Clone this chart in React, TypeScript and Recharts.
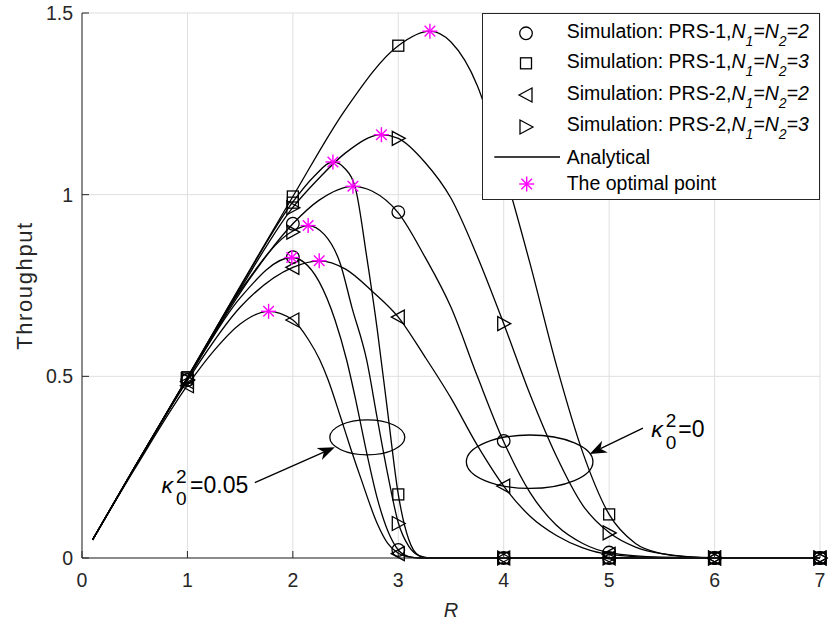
import { ComposedChart, Line, Scatter, XAxis, YAxis, CartesianGrid, ReferenceDot, Legend } from 'recharts';

const FONT = '"Liberation Sans", Arial, Helvetica, sans-serif';
const INK = '#262626';
const MAGENTA = '#ff00ff';

// axis ticks
const xTicks = [0, 1, 2, 3, 4, 5, 6, 7];
const yTicks = [0, 0.5, 1, 1.5];

// analytical curves, kappa_0^2 = 0
const k0Prs1N3R = [0.1, 0.5, 1, 1.5, 2, 2.5, 3, 3.3, 3.5, 3.75, 4, 4.25, 4.5, 4.75, 5, 5.25, 5.5, 5.75, 6, 7];
const k0Prs1N3T = [0.05, 0.25, 0.497, 0.748, 0.995, 1.235, 1.41, 1.45, 1.42, 1.3, 1.07, 0.81, 0.53, 0.29, 0.12, 0.04, 0.012, 0.003, 0, 0];
const k0Prs2N3R = [0.1, 0.5, 1, 1.5, 2, 2.25, 2.5, 2.84, 3, 3.25, 3.5, 3.75, 4, 4.25, 4.5, 4.75, 5, 5.25, 5.5, 6, 7];
const k0Prs2N3T = [0.05, 0.25, 0.495, 0.74, 0.965, 1.046, 1.115, 1.165, 1.155, 1.09, 0.99, 0.83, 0.645, 0.45, 0.28, 0.145, 0.07, 0.03, 0.012, 0.001, 0];
const k0Prs1N2R = [0.1, 0.5, 1, 1.5, 2, 2.25, 2.57, 2.75, 3, 3.25, 3.5, 3.75, 4, 4.25, 4.5, 4.75, 5, 5.5, 6, 7];
const k0Prs1N2T = [0.05, 0.25, 0.493, 0.73, 0.92, 0.985, 1.023, 1.01, 0.95, 0.83, 0.69, 0.5, 0.32, 0.18, 0.09, 0.04, 0.015, 0.002, 0, 0];
const k0Prs2N2R = [0.1, 0.5, 1, 1.5, 2, 2.25, 2.5, 2.75, 3, 3.25, 3.5, 3.75, 4, 4.25, 4.5, 4.75, 5, 5.5, 6, 7];
const k0Prs2N2T = [0.05, 0.25, 0.488, 0.69, 0.8, 0.818, 0.795, 0.735, 0.663, 0.555, 0.44, 0.31, 0.198, 0.115, 0.062, 0.028, 0.01, 0.001, 0, 0];

// analytical curves, kappa_0^2 = 0.05
const k5Prs1N3R = [0.1, 0.5, 1, 1.5, 2, 2.2, 2.38, 2.5, 2.6, 2.7, 2.8, 2.9, 3, 3.1, 3.2, 3.3, 4, 5, 6, 7];
const k5Prs1N3T = [0.05, 0.25, 0.497, 0.745, 0.98, 1.05, 1.09, 1.07, 1.01, 0.83, 0.63, 0.4, 0.175, 0.05, 0.006, 0, 0, 0, 0, 0];
const k5Prs2N3R = [0.1, 0.5, 1, 1.5, 2, 2.145, 2.3, 2.45, 2.56, 2.7, 2.8, 2.9, 3, 3.1, 3.2, 3.3, 4, 5, 6, 7];
const k5Prs2N3T = [0.05, 0.25, 0.495, 0.735, 0.9, 0.915, 0.89, 0.81, 0.69, 0.545, 0.385, 0.23, 0.097, 0.032, 0.006, 0, 0, 0, 0, 0];
const k5Prs1N2R = [0.1, 0.5, 1, 1.5, 1.99, 2.1, 2.25, 2.4, 2.51, 2.6, 2.7, 2.8, 2.9, 3, 3.1, 3.2, 4, 5, 6, 7];
const k5Prs1N2T = [0.05, 0.25, 0.492, 0.716, 0.827, 0.815, 0.76, 0.655, 0.545, 0.43, 0.29, 0.165, 0.075, 0.022, 0.004, 0, 0, 0, 0, 0];
const k5Prs2N2R = [0.1, 0.5, 1, 1.25, 1.5, 1.77, 2, 2.15, 2.256, 2.335, 2.45, 2.55, 2.65, 2.8, 2.9, 3, 3.1, 3.2, 4, 5, 6, 7];
const k5Prs2N2T = [0.05, 0.245, 0.475, 0.57, 0.644, 0.679, 0.655, 0.6, 0.545, 0.49, 0.39, 0.3, 0.215, 0.095, 0.04, 0.013, 0.003, 0, 0, 0, 0, 0];

// simulation points
const simR = [1, 2, 3, 4, 5, 6, 7];
const simPrs1N2K0 = [0.49, 0.92, 0.952, 0.322, 0.015, 0, 0];
const simPrs1N2K5 = [0.49, 0.828, 0.022, 0, 0, 0, 0];
const simPrs1N3K0 = [0.497, 0.995, 1.41, 1.07, 0.12, 0, 0];
const simPrs1N3K5 = [0.497, 0.978, 0.175, 0, 0, 0, 0];
const simPrs2N2K0 = [0.485, 0.8, 0.663, 0.198, 0.01, 0, 0];
const simPrs2N2K5 = [0.474, 0.655, 0.012, 0, 0, 0, 0];
const simPrs2N3K0 = [0.49, 0.964, 1.155, 0.645, 0.069, 0, 0];
const simPrs2N3K5 = [0.49, 0.897, 0.095, 0, 0, 0, 0];

// optimal points
const optR = [3.3, 2.84, 2.38, 2.57, 2.145, 1.99, 2.25, 1.77];
const optT = [1.45, 1.165, 1.09, 1.023, 0.915, 0.827, 0.818, 0.679];

type Pt = { x: number; y: number };
const zip = (xs: number[], ys: number[]): Pt[] => xs.map((x, i) => ({ x, y: ys[i] }));

const curves: Pt[][] = [
  zip(k0Prs1N3R, k0Prs1N3T),
  zip(k0Prs2N3R, k0Prs2N3T),
  zip(k0Prs1N2R, k0Prs1N2T),
  zip(k0Prs2N2R, k0Prs2N2T),
  zip(k5Prs1N3R, k5Prs1N3T),
  zip(k5Prs2N3R, k5Prs2N3T),
  zip(k5Prs1N2R, k5Prs1N2T),
  zip(k5Prs2N2R, k5Prs2N2T),
];

const circlePts = [...zip(simR, simPrs1N2K0), ...zip(simR, simPrs1N2K5)];
const squarePts = [...zip(simR, simPrs1N3K0), ...zip(simR, simPrs1N3K5)];
const triLeftPts = [...zip(simR, simPrs2N2K0), ...zip(simR, simPrs2N2K5)];
const triRightPts = [...zip(simR, simPrs2N3K0), ...zip(simR, simPrs2N3K5)];
const optPts = zip(optR, optT);

const SW = 1.3;

const CircleMark = ({ cx, cy }: any) => (
  <circle cx={cx} cy={cy} r={6.3} fill="none" stroke="#000" strokeWidth={SW} />
);
const SquareMark = ({ cx, cy }: any) => (
  <rect x={cx - 5.5} y={cy - 5.5} width={11} height={11} fill="none" stroke="#000" strokeWidth={SW} />
);
const TriLeftMark = ({ cx, cy }: any) => (
  <polygon points={`${cx - 7},${cy} ${cx + 6},${cy - 7} ${cx + 6},${cy + 7}`} fill="none" stroke="#000" strokeWidth={SW} />
);
const TriRightMark = ({ cx, cy }: any) => (
  <polygon points={`${cx + 7},${cy} ${cx - 6},${cy - 7} ${cx - 6},${cy + 7}`} fill="none" stroke="#000" strokeWidth={SW} />
);
const StarMark = ({ cx, cy }: any) => {
  const r = 7.5;
  const d = 5.3;
  return (
    <g stroke={MAGENTA} strokeWidth={1.4}>
      <line x1={cx - r} y1={cy} x2={cx + r} y2={cy} />
      <line x1={cx} y1={cy - r} x2={cx} y2={cy + r} />
      <line x1={cx - d} y1={cy - d} x2={cx + d} y2={cy + d} />
      <line x1={cx - d} y1={cy + d} x2={cx + d} y2={cy - d} />
    </g>
  );
};

// arrow drawn from a tail offset (dx, dy) to the tip at the anchor
const arrowShape = (dx: number, dy: number) => ({ cx, cy }: any) => {
  const len = Math.hypot(dx, dy);
  const ux = -dx / len;
  const uy = -dy / len;
  const hl = 17;
  const hw = 6.5;
  const notch = 5;
  const bx = cx - ux * hl;
  const by = cy - uy * hl;
  const nx = -uy;
  const ny = ux;
  const mx = cx - ux * (hl - notch);
  const my = cy - uy * (hl - notch);
  return (
    <g>
      <line x1={cx + dx} y1={cy + dy} x2={mx} y2={my} stroke="#000" strokeWidth={SW} />
      <polygon
        points={`${cx},${cy} ${bx + nx * hw},${by + ny * hw} ${mx},${my} ${bx - nx * hw},${by - ny * hw}`}
        fill="#000"
      />
    </g>
  );
};

const ellipseShape = (rx: number, ry: number) => ({ cx, cy }: any) => (
  <ellipse cx={cx} cy={cy} rx={rx} ry={ry} fill="none" stroke="#000" strokeWidth={SW} />
);

const kappaShape = (dx: number, dy: number, value: string, eqGap: number) => ({ cx, cy }: any) => {
  const x = cx + dx;
  const y = cy + dy;
  return (
    <g fontFamily={FONT} fill="#000">
      <text x={x} y={y} fontSize={23} fontStyle="italic">κ</text>
      <text x={x + 14.5} y={y - 10} fontSize={19}>2</text>
      <text x={x + 14.5} y={y + 12} fontSize={19}>0</text>
      <text x={x + eqGap} y={y} fontSize={23}>{'=' + value}</text>
    </g>
  );
};

const LegendRow = ({ y, prs, n }: { y: number; prs: string; n: string }) => (
  <text x={84.7} y={y} fontFamily={FONT} fontSize={19.5} fill="#000">
    Simulation: {prs},<tspan fontStyle="italic">N</tspan>
    <tspan fontStyle="italic" fontSize={14} dy={8}>1</tspan>
    <tspan fontStyle="italic" dy={-8}>=N</tspan>
    <tspan fontStyle="italic" fontSize={14} dy={8}>2</tspan>
    <tspan fontStyle="italic" dy={-8}>={n}</tspan>
  </text>
);

const renderLegend = () => (
  <svg width={338} height={187} style={{ display: 'block' }}>
    <rect x={0.5} y={0.5} width={337} height={186} fill="#fff" stroke={INK} strokeWidth={1} />
    <CircleMark cx={44} cy={20.3} />
    <SquareMark cx={44} cy={50.3} />
    <TriLeftMark cx={44} cy={82} />
    <TriRightMark cx={44} cy={114} />
    <line x1={12.3} y1={144} x2={78} y2={144} stroke="#000" strokeWidth={SW} />
    <StarMark cx={44.7} cy={171} />
    <LegendRow y={24.5} prs="PRS-1" n="2" />
    <LegendRow y={55.3} prs="PRS-1" n="3" />
    <LegendRow y={87} prs="PRS-2" n="2" />
    <LegendRow y={117.7} prs="PRS-2" n="3" />
    <text x={84.7} y={151} fontFamily={FONT} fontSize={19.5} fill="#000">Analytical</text>
    <text x={84.7} y={176.7} fontFamily={FONT} fontSize={19.5} fill="#000">The optimal point</text>
  </svg>
);

const tickStyle = { fontFamily: FONT, fontSize: 19.5, fill: INK };

export default function App() {
  return (
    <div style={{ position: 'absolute', left: 0, top: 0, background: '#fff' }}>
      <ComposedChart width={828} height={624} margin={{ top: 13, right: 8, bottom: 0, left: 0 }}>
        <CartesianGrid stroke="#dfdfdf" strokeWidth={1} />
        <XAxis
          dataKey="x"
          type="number"
          domain={[0, 7]}
          ticks={xTicks}
          height={66}
          tickSize={-7}
          tickMargin={22}
          stroke={INK}
          tick={tickStyle}
          label={{ value: 'R', position: 'insideBottom', offset: 7, style: { fontFamily: FONT, fontSize: 20, fontStyle: 'italic', fill: INK } }}
        />
        <XAxis xAxisId="top" orientation="top" type="number" domain={[0, 7]} ticks={xTicks} height={0} tickSize={-7} tick={false} stroke={INK} />
        <YAxis
          type="number"
          domain={[0, 1.5]}
          ticks={yTicks}
          width={82}
          tickSize={-7}
          tickMargin={16}
          stroke={INK}
          tick={tickStyle}
          label={{ value: 'Throughput', angle: -90, position: 'insideLeft', offset: 24, style: { textAnchor: 'middle', fontFamily: FONT, fontSize: 22, letterSpacing: 1.6, fill: INK } }}
        />
        <YAxis yAxisId="right" orientation="right" type="number" domain={[0, 1.5]} ticks={yTicks} width={0} tickSize={-7} tick={false} stroke={INK} />
        {curves.map((pts, i) => (
          <Line
            key={i}
            data={pts}
            dataKey="y"
            type="monotone"
            stroke="#000"
            strokeWidth={SW}
            dot={false}
            activeDot={false}
            isAnimationActive={false}
          />
        ))}
        <Scatter data={circlePts} dataKey="y" shape={CircleMark} isAnimationActive={false} />
        <Scatter data={squarePts} dataKey="y" shape={SquareMark} isAnimationActive={false} />
        <Scatter data={triLeftPts} dataKey="y" shape={TriLeftMark} isAnimationActive={false} />
        <Scatter data={triRightPts} dataKey="y" shape={TriRightMark} isAnimationActive={false} />
        <Scatter data={optPts} dataKey="y" shape={StarMark} isAnimationActive={false} />
        <ReferenceDot x={2.706} y={0.332} r={0} shape={ellipseShape(37.5, 17.5)} />
        <ReferenceDot x={4.246} y={0.265} r={0} shape={ellipseShape(63.3, 26.7)} />
        <ReferenceDot x={2.398} y={0.305} r={0} shape={arrowShape(-80, 35.4)} />
        <ReferenceDot x={4.815} y={0.2865} r={0} shape={arrowShape(53.3, -25.7)} />
        <ReferenceDot x={2.398} y={0.305} r={0} shape={kappaShape(-173.3, 45.4, '0.05', 28.5)} />
        <ReferenceDot x={4.815} y={0.2865} r={0} shape={kappaShape(61.7, -17.3, '0', 27)} />
        <Legend
          layout="horizontal"
          verticalAlign="middle"
          align="center"
          content={renderLegend}
          wrapperStyle={{ left: 482, top: 13, width: 338, height: 187 }}
        />
      </ComposedChart>
    </div>
  );
}
